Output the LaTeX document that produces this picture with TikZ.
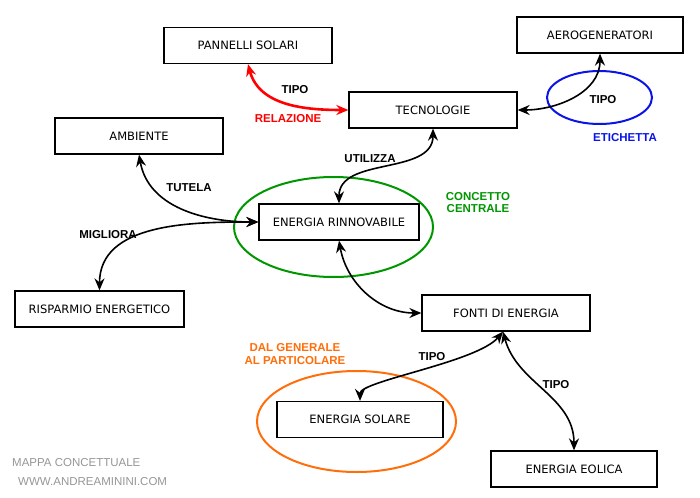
\documentclass[tikz,border=0pt]{standalone}
\usepackage{fontspec}
\setmainfont{DejaVu Sans}
\newfontfamily\labelfont{Liberation Sans}
\usetikzlibrary{arrows.meta}
\definecolor{mapred}{RGB}{255,0,0}
\definecolor{mapblue}{RGB}{10,20,230}
\definecolor{mapgreen}{RGB}{0,150,0}
\definecolor{maporange}{RGB}{255,110,10}
\definecolor{mapgray}{RGB}{150,150,150}
\tikzset{
    concept/.style={rectangle,draw,line width=1.3pt,minimum width=168pt,minimum height=36pt,inner sep=0pt,font=\fontsize{11.5}{13}\selectfont},
    linklabel/.style={font=\labelfont\bfseries\fontsize{11.5}{12.5}\selectfont,inner sep=0pt,align=center},
    credit/.style={font=\labelfont\fontsize{11.5}{13}\selectfont,text=mapgray,inner sep=0pt,anchor=west},
    halo/.style={line width=2pt},
    link/.style={arrows={Stealth[length=12pt,width=10pt,inset=4pt]-Stealth[length=12pt,width=10pt,inset=4pt]},line width=1.6pt},
    redlink/.style={link,draw=mapred,line width=2.6pt},
    }
\begin{document}
\begin{tikzpicture}[x=1pt,y=1pt]
    \useasboundingbox (0,0) rectangle (700,-497);
        \node[concept] (pan) at (248,-45.5) {PANNELLI SOLARI};
        \node[concept] (tec) at (433,-110) {TECNOLOGIE};
        \node[concept,minimum width=166pt] (aer) at (600,-35) {AEROGENERATORI};
        \node[concept] (amb) at (139,-136) {AMBIENTE};
        \node[concept,minimum width=160pt] (ren) at (339,-222) {ENERGIA RINNOVABILE};
        \node[concept,minimum width=169pt] (ris) at (99.5,-309) {RISPARMIO ENERGETICO};
        \node[concept] (fon) at (506,-313) {FONTI DI ENERGIA};
        \node[concept,minimum width=166pt] (sol) at (360,-419.5) {ENERGIA SOLARE};
        \node[concept,minimum width=166pt] (eol) at (574,-469) {ENERGIA EOLICA};

    \draw[halo,draw=mapblue] (599.5,-97.5) ellipse (52.5 and 26.5);
    \draw[halo,draw=mapgreen] (333.5,-227) ellipse (99.5 and 50);
    \draw[halo,draw=maporange] (356.5,-421.5) ellipse (99.5 and 50.5);

        \draw[redlink] (pan.south) to[out=-75,in=180] (tec.west);
        \draw[link] (tec.east) to[out=0,in=-90] (aer.south);
        \draw[link] (ren.north) to[out=90,in=-90] (tec.south);
        \draw[link] (amb.south) to[out=-80,in=180] (ren.west);
        \draw[link] (ris.north) to[out=90,in=180] (ren.west);
        \draw[link] (ren.south) to[out=-80,in=180] (fon.west);
        \draw[link] ([xshift=-3pt]fon.south) to[out=-130,in=90,out distance=40pt,in distance=20pt] (sol.north);
        \draw[link] ([xshift=-3pt]fon.south) to[out=-75,in=90] (eol.north);

        \node[linklabel] (t1) at (295,-90) {TIPO};
        \node[linklabel,text=mapred] (rel) at (288,-119) {RELAZIONE};
        \node[linklabel] (t2) at (603,-100) {TIPO};
        \node[linklabel,text=mapblue] (eti) at (625,-138) {ETICHETTA};
        \node[linklabel] (uti) at (370,-159) {UTILIZZA};
        \node[linklabel] (tut) at (189,-188) {TUTELA};
        \node[linklabel] (mig) at (108,-235) {MIGLIORA};
        \node[linklabel,text=mapgreen] (cen) at (478,-202.5) {CONCETTO\\CENTRALE};
        \node[linklabel,text=maporange] (gen) at (295,-354) {DAL GENERALE\\AL PARTICOLARE};
        \node[linklabel] (t3) at (432,-357) {TIPO};
        \node[linklabel] (t4) at (556,-385) {TIPO};

        \node[credit] (map) at (12,-463) {MAPPA CONCETTUALE};
        \node[credit] (www) at (18,-482) {WWW.ANDREAMININI.COM};
    \end{tikzpicture}
\end{document}
